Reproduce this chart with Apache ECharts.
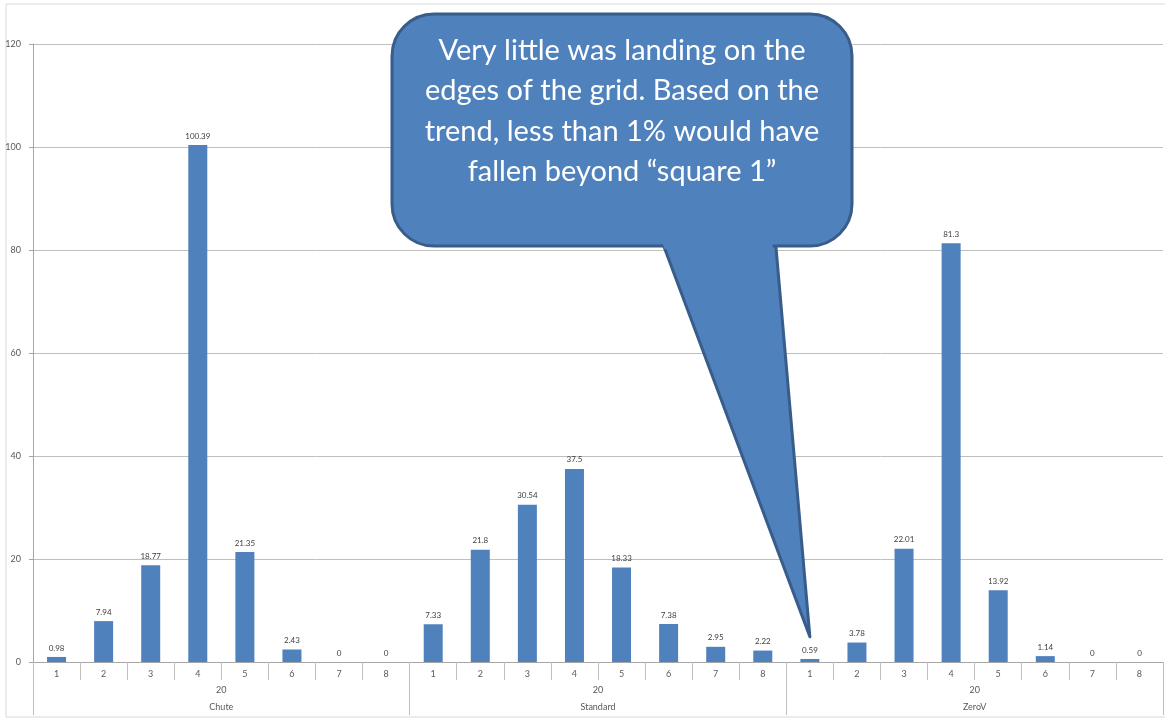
<!DOCTYPE html>
<html>
<head>
<meta charset="utf-8">
<script src="https://cdn.jsdelivr.net/npm/echarts@6/dist/echarts.min.js"></script>
<style>
html,body{margin:0;padding:0;background:#fff;}
#c{width:1165px;height:719px;}
</style>
</head>
<body>
<div id="c"></div>
<script>
var groups = ['Chute', 'Standard', 'ZeroV'];
var midLabel = ['20', '20', '20'];
var squares = ['1', '2', '3', '4', '5', '6', '7', '8'];
var chute = [0.98, 7.94, 18.77, 100.39, 21.35, 2.43, 0, 0];
var standard = [7.33, 21.8, 30.54, 37.5, 18.33, 7.38, 2.95, 2.22];
var zeroV = [0.59, 3.78, 22.01, 81.3, 13.92, 1.14, 0, 0];
var yTicks = [0, 20, 40, 60, 80, 100, 120];
var calloutText = ['Very little was landing on the', 'edges of the grid. Based on the', 'trend, less than 1% would have', 'fallen beyond \u201csquare 1\u201d'];
var calloutTarget = { category: 16, value: 4.9 };

var categories = [];
var values = [];
[chute, standard, zeroV].forEach(function (arr) {
  arr.forEach(function (v, i) { categories.push(squares[i]); values.push(v); });
});

var labelColor = '#595959';
var lineColor = '#a6a6a6';
var font = 'Lato, "Open Sans", sans-serif';

var chart = echarts.init(document.getElementById('c'));
chart.setOption({
  animation: false,
  backgroundColor: '#fff',
  grid: { left: 33, right: 2, top: 44, bottom: 57, containLabel: false },
  xAxis: [
    {
      type: 'category', data: categories, position: 'bottom',
      axisLine: { show: true, lineStyle: { color: lineColor, width: 1 } },
      axisTick: { show: true, interval: 0, length: 18, lineStyle: { color: '#bfbfbf' } },
      axisLabel: { interval: 0, margin: 8, fontSize: 9, color: labelColor, fontFamily: font }
    },
    {
      type: 'category', data: midLabel, position: 'bottom',
      axisLine: { show: false },
      axisTick: { show: true, interval: 0, length: 53, lineStyle: { color: '#bfbfbf' } },
      axisLabel: { interval: 0, margin: 24, fontSize: 9, color: labelColor, fontFamily: font }
    },
    {
      type: 'category', data: groups, position: 'bottom',
      axisLine: { show: false },
      axisTick: { show: false },
      axisLabel: { interval: 0, margin: 41, fontSize: 9, color: labelColor, fontFamily: font }
    }
  ],
  yAxis: {
    type: 'value', min: yTicks[0], max: yTicks[yTicks.length - 1], interval: 20,
    axisLine: { show: true, lineStyle: { color: lineColor } },
    axisTick: { show: true, length: 4, lineStyle: { color: lineColor } },
    axisLabel: { fontSize: 9, color: labelColor, margin: 12, fontFamily: font },
    splitLine: { show: true, lineStyle: { color: '#bfbfbf', width: 1 } }
  },
  series: [{
    type: 'bar', xAxisIndex: 0, data: values, barWidth: 19,
    itemStyle: { color: '#4f81bd' },
    label: { show: true, position: 'top', distance: 5, fontSize: 8, color: '#404040', fontFamily: font }
  }]
});

var tip = chart.convertToPixel({ xAxisIndex: 0, yAxisIndex: 0 }, [calloutTarget.category, calloutTarget.value]);
var x0 = 392, y0 = 14, x1 = 852, y1 = 246, r = 42;
var tl = 660, tr = 775;
var fill = '#4f81bd', stroke = '#385d8a';

chart.setOption({
  graphic: [
    {
      type: 'rect', silent: true, z: -1,
      shape: { x: 6, y: 4, width: 1165, height: 713 },
      style: { fill: 'none', stroke: '#d9d9d9', lineWidth: 1 }
    },
    {
      type: 'polygon', silent: true, z: 100,
      shape: { points: [[tl, y1 - 10], [tr, y1 - 10], [tip[0], tip[1]]] },
      style: { fill: fill, stroke: stroke, lineWidth: 3, lineJoin: 'round' }
    },
    {
      type: 'rect', silent: true, z: 101,
      shape: { x: x0, y: y0, width: x1 - x0, height: y1 - y0, r: r },
      style: { fill: fill, stroke: stroke, lineWidth: 3 }
    },
    {
      type: 'polygon', silent: true, z: 102,
      shape: { points: [[tl + 2.5, y1 - 3], [tr - 2.5, y1 - 3], [tr - 2.2, y1 + 3], [tl + 4.5, y1 + 3]] },
      style: { fill: fill }
    },
    {
      type: 'text', silent: true, z: 103,
      x: (x0 + x1) / 2, y: 111,
      style: {
        text: calloutText.join('\n'),
        fill: '#ffffff', font: '29px ' + font,
        align: 'center', verticalAlign: 'middle', lineHeight: 40.5
      }
    }
  ]
});
</script>
</body>
</html>
